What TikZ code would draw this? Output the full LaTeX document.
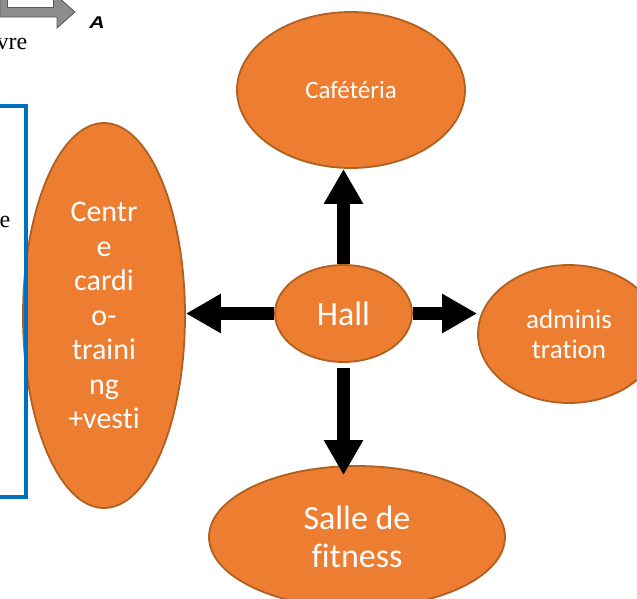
\documentclass[tikz,border=0pt]{standalone}
\usepackage{fontspec}
\setmainfont{Carlito}[Ligatures={NoCommon}]
\newfontfamily\serifface{Liberation Serif}
\newfontfamily\headface{Liberation Sans}
\usetikzlibrary{shapes.geometric,arrows.meta}
\definecolor{roomfill}{HTML}{ED7D31}
\definecolor{roomedge}{HTML}{B0601F}
\definecolor{frameblue}{HTML}{0070C0}
\definecolor{icongray}{HTML}{8C8C8C}
\definecolor{iconedge}{HTML}{5A5A5A}
\tikzset{
  room/.style={ellipse, draw=roomedge, line width=1.8pt, fill=roomfill,
    text=white, inner sep=0pt, align=center},
  flow/.style={line width=13pt, -{Triangle[width=37pt,length=35pt]}},
  bodytext/.style={font=\serifface\fontsize{24}{24}\selectfont, inner sep=0pt, anchor=base east},
}
\begin{document}
\begin{tikzpicture}[x=1pt,y=-1pt]
\useasboundingbox (0,0) rectangle (637,598);
\clip (0,0) rectangle (637,598);

% small bent arrow icon in the corner
\fill[icongray, draw=iconedge, line width=0.8pt]
  (0,-6) -- (0,17) -- (57,17) -- (57,28) -- (75,12) -- (57,-4) -- (57,-6) -- cycle;
\filldraw[fill=white, draw=iconedge, line width=0.8pt] (7,-6) rectangle (53,7);
\node[font=\headface\bfseries\itshape\fontsize{17}{17}\selectfont, inner sep=0pt,
  anchor=base, xscale=1.25] (marka) at (97,28.5) {A};

% fragments of surrounding text
\node[bodytext] (wordtop) at (27.5,49) {vre};
\node[bodytext] (wordside) at (10.5,227) {e};

% rooms
\node[room, minimum width=228pt, minimum height=156pt,
  font=\fontsize{25}{30}\selectfont] (cafe) at (351,90) {Cafétéria};
\node[room, minimum width=137pt, minimum height=97pt,
  font=\fontsize{34}{40}\selectfont] (hall) at (343.5,313.5) {Hall};
\node[room, minimum width=162pt, minimum height=385pt,
  font=\fontsize{30}{34.5}\selectfont] (centre) at (104,315.5)
  {Centr\\e\\cardi\\o-\\traini\\ng\\+vesti};
\node[room, minimum width=182pt, minimum height=138pt,
  font=\fontsize{27}{30}\selectfont] (admin) at (569,334) {adminis\\tration};
\node[room, minimum width=296pt, minimum height=142pt,
  font=\fontsize{34}{38}\selectfont] (salle) at (357,537) {Salle de\\fitness};

% blue frame on the left
\draw[frameblue, line width=4.5pt] (-10,106) -- (26,106) -- (26,497) -- (-10,497);

% circulation arrows from the hall
\draw[flow] (hall.north) -- (hall.north |- cafe.south);
\draw[flow] (hall.west) -- (hall.west -| centre.east);
\draw[flow] (hall.east) -- (hall.east -| admin.west);
\coordinate (downstart) at ([yshift=-5pt]hall.south);
\coordinate (downend) at ([yshift=-10pt]hall.south |- salle.north);
\draw[flow] (downstart) -- (downend);
\end{tikzpicture}
\end{document}
